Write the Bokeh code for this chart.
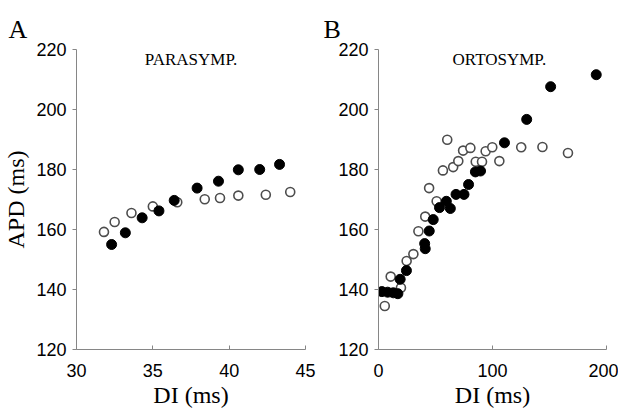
from bokeh.plotting import figure
from bokeh.layouts import row
from bokeh.models import Range1d, FixedTicker, Label, Title
from bokeh.embed import file_html
from bokeh.resources import INLINE

# ---------------- data ----------------
# Panel A: PARASYMP.
a_filled_di = [32.3, 33.2, 34.3, 35.4, 36.4, 37.9, 39.3, 40.6, 42.0, 43.3]
a_filled_apd = [155.0, 158.9, 163.9, 166.2, 169.7, 173.8, 176.1, 179.9, 180.0, 181.7]
a_open_di = [31.8, 32.5, 33.6, 35.0, 36.6, 38.4, 39.4, 40.6, 42.4, 44.0]
a_open_apd = [159.2, 162.5, 165.5, 167.7, 169.1, 170.1, 170.5, 171.3, 171.6, 172.5]

# Panel B: ORTOSYMP.
b_filled_di = [3, 8, 13, 17, 19, 24.5, 40.5, 41, 44.5, 48, 53.5, 59.5, 63, 68, 75,
               79, 85, 89.5, 110.5, 130, 151, 191]
b_filled_apd = [139.3, 139.1, 138.9, 138.6, 143.4, 146.3, 155.3, 153.6, 159.5, 163.3,
                167.3, 169.4, 167.0, 171.7, 171.7, 175.0, 179.2, 179.5, 188.9, 196.7,
                207.6, 211.6]
b_open_di = [5.5, 10.7, 19.7, 24.7, 30.6, 35, 41, 44.4, 51, 56.5, 60.3, 65.5, 70,
             74.2, 80.6, 85.3, 90.8, 94, 99.8, 106, 125.2, 143.8, 166.2]
b_open_apd = [134.5, 144.3, 140.6, 149.5, 151.8, 159.4, 164.3, 173.8, 169.4, 179.7,
              189.9, 180.8, 182.8, 186.3, 187.2, 182.6, 182.6, 186.1, 187.4, 182.8,
              187.4, 187.5, 185.5]

y_ticks = [120, 140, 160, 180, 200, 220]
a_x_ticks = [30, 35, 40, 45]
b_x_ticks = [0, 100, 200]

AXIS_COLOR = "#868686"
OPEN_COLOR = "#4d4d4d"


def style(p, show_ylabel):
    p.grid.visible = False
    p.outline_line_color = None
    p.background_fill_color = "white"
    p.border_fill_color = "white"
    for ax in (p.xaxis[0], p.yaxis[0]):
        ax.axis_line_color = AXIS_COLOR
        ax.major_tick_line_color = AXIS_COLOR
        ax.minor_tick_line_color = None
        ax.major_label_text_font = "Liberation Sans"
        ax.major_label_text_font_size = "18px"
        ax.major_label_text_color = "black"
        ax.axis_label_text_font = "Liberation Serif"
        ax.axis_label_text_font_size = "24px"
        ax.axis_label_text_font_style = "normal"
        ax.axis_label_text_color = "black"
    p.xaxis.major_tick_in = 4
    p.xaxis.major_tick_out = 0
    p.xaxis.major_label_standoff = 14
    p.xaxis.axis_label = "DI (ms)"
    p.xaxis.axis_label_standoff = 2
    p.yaxis.major_tick_in = 0
    p.yaxis.major_tick_out = 4
    p.yaxis.major_label_standoff = 6
    p.yaxis.ticker = FixedTicker(ticks=y_ticks)
    if show_ylabel:
        p.yaxis.axis_label = "APD (ms)"
        p.yaxis.axis_label_standoff = 4


def letter(p, text, offset):
    t = Title(text=text, align="left", offset=offset, standoff=11,
              text_font="Liberation Serif", text_font_size="26px",
              text_font_style="normal", text_color="black")
    p.add_layout(t, "above")
    spacer = Title(text=" ", text_font_size="4px", standoff=0)
    p.add_layout(spacer, "above")


# ---------------- panel A ----------------
pa = figure(frame_width=229, frame_height=300, x_range=Range1d(30, 45),
            y_range=Range1d(120, 220),
            output_backend="svg", toolbar_location=None,
            min_border_left=72, min_border_right=15, min_border_top=49, min_border_bottom=48)
style(pa, True)
pa.xaxis.ticker = FixedTicker(ticks=a_x_ticks)
pa.scatter(a_open_di, a_open_apd, size=9, fill_color="white", line_color=OPEN_COLOR,
           line_width=1.6)
pa.scatter(a_filled_di, a_filled_apd, size=10, fill_color="black", line_color="black")
pa.add_layout(Label(x=37.5, y=219.7, text="PARASYMP.", text_align="center",
                    text_baseline="top", text_font="Liberation Serif",
                    text_font_size="17px", text_color="black"))
letter(pa, "A", -68)

# ---------------- panel B ----------------
pb = figure(frame_width=228, frame_height=300, x_range=Range1d(0, 200),
            y_range=Range1d(120, 220),
            output_backend="svg", toolbar_location=None,
            min_border_left=58, min_border_right=12, min_border_top=49, min_border_bottom=48)
style(pb, False)
pb.xaxis.ticker = FixedTicker(ticks=b_x_ticks)
pb.scatter(b_open_di, b_open_apd, size=9, fill_color="white", line_color=OPEN_COLOR,
           line_width=1.6)
pb.scatter(b_filled_di, b_filled_apd, size=10, fill_color="black", line_color="black")
pb.add_layout(Label(x=106, y=219.7, text="ORTOSYMP.", text_align="center",
                    text_baseline="top", text_font="Liberation Serif",
                    text_font_size="17px", text_color="black"))
letter(pb, "B", -55)

layout = row(pa, pb, spacing=0)
open("out.html", "w").write(file_html(layout, INLINE))
